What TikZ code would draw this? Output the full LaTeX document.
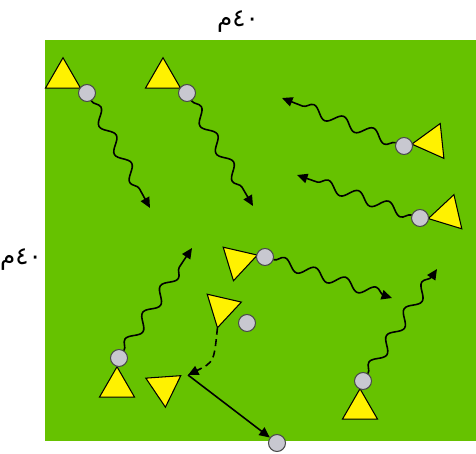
\documentclass[tikz,border=0pt]{standalone}
\usepackage{fontspec}
\usepackage{xcolor}
\usetikzlibrary{arrows.meta,shapes.geometric,decorations.pathmorphing}
\TeXXeTstate=1
\newfontfamily\arabicfont[Script=Arabic]{DejaVu Sans}
\definecolor{pitch}{HTML}{66C200}
\definecolor{shirt}{HTML}{FFF200}
\definecolor{ballgray}{HTML}{C8C8D0}
\definecolor{ballrim}{HTML}{4A4A4A}

\begin{document}
\begin{tikzpicture}[x=0.02cm,y=-0.02cm,player/.style={regular polygon,regular polygon sides=3,draw=black,fill=shirt,line width=0.6pt,minimum size=0.81cm,inner sep=0pt,outer sep=0pt},ball/.style={circle,draw=ballrim,fill=ballgray,line width=0.6pt,minimum size=0.34cm,inner sep=0pt},dribble/.style={-{Triangle[length=2.1mm,width=1.9mm]},line width=0.9pt,decorate,decoration={snake,amplitude=1.1mm,segment length=6.4mm,post length=1.5mm}},pass/.style={-{Triangle[length=2.1mm,width=1.9mm]},line width=0.9pt},run/.style={pass,dash pattern=on 1.4mm off 0.9mm},size/.style={font=\arabicfont\fontsize{14}{16}\selectfont,inner sep=0pt,anchor=base}]
\fill[white] (0,0) rectangle (476,453);
\useasboundingbox (0,0) rectangle (476,453);
\fill[pitch] (45,40) rectangle (476,441);
\node[size] (toplen) at (238,27) {\beginR ٤٠م\endR};
\node[size] (sidelen) at (21,264) {\beginR ٤٠م\endR};
\node[player] (p1) at (63,78) {};
\node[player] (p2) at (163,78) {};
\node[player,rotate=96] (p3) at (432,142) {};
\node[player,rotate=103] (p4) at (448,214) {};
\node[player] (p5) at (117,387) {};
\node[player,rotate=167] (p6) at (238,261) {};
\node[player] (p7) at (360,409) {};
\node[player,rotate=167] (p8) at (222,308) {};
\node[player,rotate=184] (p9) at (164,387) {};
\node[ball] (b1) at (87,93) {};
\node[ball] (b2) at (187,93) {};
\node[ball] (b3) at (404,146) {};
\node[ball] (b4) at (420,218) {};
\node[ball] (b5) at (119,358) {};
\node[ball] (b6) at (265,257) {};
\node[ball] (b7) at (363,381) {};
\node[ball] (b8) at (247,323) {};
\node[ball] (b9) at (277,443) {};
\coordinate (e1) at (150,208);
\coordinate (e2) at (253,206);
\coordinate (e3) at (282,98);
\coordinate (e4) at (297,175);
\coordinate (e5) at (192,248);
\coordinate (e6) at (392,298);
\coordinate (e7) at (437,269);
\coordinate (kick) at (188,375);
\draw[dribble] (b1) -- (e1);
\draw[dribble] (b2) -- (e2);
\draw[dribble] (b3) -- (e3);
\draw[dribble] (b4) -- (e4);
\draw[dribble] (b5) -- (e5);
\draw[dribble] (b6) -- (e6);
\draw[dribble] (b7) -- (e7);
\draw[run] (p8.corner 1) .. controls (214,362) .. (kick);
\draw[pass] (kick) -- (b9);
\end{tikzpicture}
\end{document}
